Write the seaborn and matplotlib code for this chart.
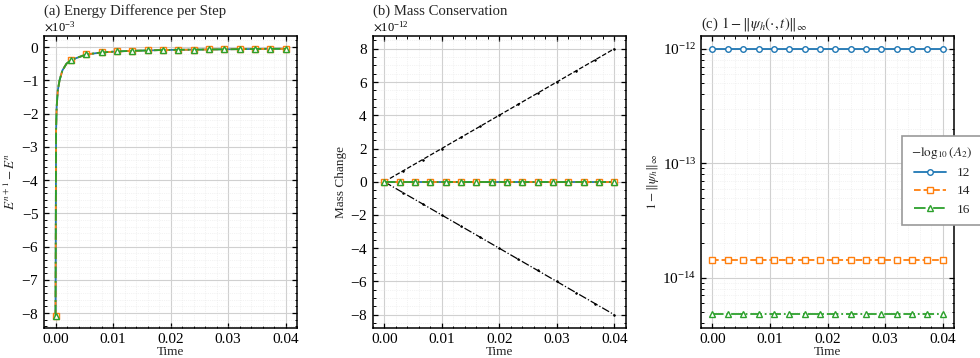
import numpy as np
import pandas as pd
import matplotlib
matplotlib.use("Agg")
import matplotlib.pyplot as plt
import seaborn as sns
from matplotlib.ticker import ScalarFormatter, LogLocator

# ---------------- data ----------------
# (a) energy difference per step (values in units of 1e-3)
time_a = [0.0, 0.0001, 0.0002, 0.0004, 0.0007, 0.0012, 0.0019,
          0.00267, 0.00533, 0.008, 0.01067, 0.01333, 0.016, 0.01867,
          0.02133, 0.024, 0.02667, 0.02933, 0.032, 0.03467, 0.03733, 0.04]
energy_12 = [-8.10, -2.50, -1.80, -1.30, -1.00, -0.70, -0.50,
             -0.39, -0.22, -0.16, -0.13, -0.11, -0.10, -0.085,
             -0.08, -0.075, -0.07, -0.065, -0.06, -0.055, -0.05, -0.05]
energy_14 = [-8.10, -2.50, -1.80, -1.30, -1.00, -0.70, -0.50,
             -0.39, -0.22, -0.16, -0.13, -0.11, -0.10, -0.085,
             -0.08, -0.075, -0.07, -0.065, -0.06, -0.055, -0.05, -0.05]
energy_16 = [-8.10, -2.50, -1.80, -1.30, -1.00, -0.70, -0.50,
             -0.39, -0.22, -0.16, -0.13, -0.11, -0.10, -0.085,
             -0.08, -0.075, -0.07, -0.065, -0.06, -0.055, -0.05, -0.05]
marker_idx_a = [0, 7, 8, 9, 10, 11, 12, 13, 14, 15, 16, 17, 18, 19, 20, 21]

# marker sample times (b, c)
time_s = [0.0, 0.00267, 0.00533, 0.008, 0.01067, 0.01333, 0.016, 0.01867,
          0.02133, 0.024, 0.02667, 0.02933, 0.032, 0.03467, 0.03733, 0.04]

# (b) mass change
mass_12 = [0.0] * 16
mass_14 = [0.0] * 16
mass_16 = [0.0] * 16
time_ref = [0.0, 0.00333, 0.00667, 0.01, 0.01333, 0.01667, 0.02,
            0.02333, 0.02667, 0.03, 0.03333, 0.03667, 0.04]
ref_upper = [0.0, 0.667, 1.333, 2.0, 2.667, 3.333, 4.0,
             4.667, 5.333, 6.0, 6.667, 7.333, 8.0]      # x 1e-12
ref_lower = [0.0, -0.667, -1.333, -2.0, -2.667, -3.333, -4.0,
             -4.667, -5.333, -6.0, -6.667, -7.333, -8.0]  # x 1e-12

# (c) 1 - ||psi_h||_inf
sup_12 = [1.0e-12] * 16
sup_14 = [1.44e-14] * 16
sup_16 = [4.77e-15] * 16
log_ticks_c = [1e-14, 1e-13, 1e-12]

labels = ["12", "14", "16"]
colors = ["#1f77b4", "#ff7f0e", "#2ca02c"]
styles = ["-", "--", "-."]
marks = ["o", "s", "^"]

# ---------------- style ----------------
sns.set_theme(style="ticks")
plt.rcParams.update({
    "font.family": ["Liberation Serif", "DejaVu Serif"],
    "mathtext.fontset": "stix",
    "axes.linewidth": 1.1,
    "xtick.direction": "in", "ytick.direction": "in",
    "xtick.top": True, "ytick.right": True,
    "xtick.minor.visible": True, "ytick.minor.visible": True,
    "xtick.major.size": 3.5, "ytick.major.size": 3.5,
    "xtick.minor.size": 1.8, "ytick.minor.size": 1.8,
    "xtick.major.width": 0.9, "ytick.major.width": 0.9,
    "xtick.minor.width": 0.7, "ytick.minor.width": 0.7,
    "xtick.labelsize": 11, "ytick.labelsize": 11,
    "axes.labelsize": 9.5, "axes.titlesize": 10.6,
    "xtick.color": "black", "ytick.color": "black",
    "axes.edgecolor": "black", "axes.facecolor": "white",
    "axes.unicode_minus": True,
})

fig = plt.figure(figsize=(9.8, 3.58), dpi=100)
W = 0.2582
B = 0.0838
H = 0.817
ax_a = fig.add_axes([0.0449, B, W, H])
ax_b = fig.add_axes([0.3803, B, W, H])
ax_c = fig.add_axes([0.7153, B, W, H])


def style_grid(ax):
    ax.grid(True, which="major", color="#d0d0d0", linewidth=0.8, linestyle="-")
    ax.grid(True, which="minor", color="#e8e8e8", linewidth=0.5, linestyle=":")
    ax.set_axisbelow(True)


lw = 1.3
ms = 4.0

# ---- (a) ----
for vals, c, ls, m in zip([energy_12, energy_14, energy_16], colors, styles, marks):
    df = pd.DataFrame({"t": time_a, "v": np.array(vals) * 1e-3})
    sns.lineplot(data=df, x="t", y="v", ax=ax_a, color=c, linestyle=ls, linewidth=lw,
                 marker=m, markevery=marker_idx_a, markersize=ms,
                 markerfacecolor="white", markeredgecolor=c, markeredgewidth=1.0,
                 estimator=None, sort=False)
ax_a.set_title("(a) Energy Difference per Step", loc="left", pad=4)
ax_a.set_xlabel("Time", labelpad=0)
ax_a.set_ylabel(r"$E^{n+1} - E^{n}$", labelpad=2)

# ---- (b) ----
df_up = pd.DataFrame({"t": time_ref, "v": np.array(ref_upper) * 1e-12})
df_lo = pd.DataFrame({"t": time_ref, "v": np.array(ref_lower) * 1e-12})
sns.lineplot(data=df_up, x="t", y="v", ax=ax_b, color="black", linestyle="--",
             linewidth=0.9, marker=".", markersize=2.5, markeredgecolor="black",
             markeredgewidth=0.5, estimator=None, sort=False)
sns.lineplot(data=df_lo, x="t", y="v", ax=ax_b, color="black", linestyle="-.",
             linewidth=0.9, marker=".", markersize=2.5, markeredgecolor="black",
             markeredgewidth=0.5, estimator=None, sort=False)
for vals, c, ls, m in zip([mass_12, mass_14, mass_16], colors, styles, marks):
    df = pd.DataFrame({"t": time_s, "v": vals})
    sns.lineplot(data=df, x="t", y="v", ax=ax_b, color=c, linestyle=ls, linewidth=lw,
                 marker=m, markersize=ms, markerfacecolor="white",
                 markeredgecolor=c, markeredgewidth=1.0, estimator=None, sort=False)
ax_b.set_title("(b) Mass Conservation", loc="left", pad=4)
ax_b.set_xlabel("Time", labelpad=0)
ax_b.set_ylabel("Mass Change", labelpad=2)
ax_b.set_ylim(-8.8e-12, 8.8e-12)

# ---- (c) ----
for vals, c, ls, m, lab in zip([sup_12, sup_14, sup_16], colors, styles, marks, labels):
    df = pd.DataFrame({"t": time_s, "v": vals})
    sns.lineplot(data=df, x="t", y="v", ax=ax_c, color=c, linestyle=ls, linewidth=lw,
                 marker=m, markersize=ms, markerfacecolor="white",
                 markeredgecolor=c, markeredgewidth=1.0, estimator=None, sort=False,
                 label=lab, legend=False)
ax_c.set_yscale("log")
ax_c.set_ylim(10 ** -14.44, 10 ** -11.884)
ax_c.set_yticks(log_ticks_c)
ax_c.yaxis.set_minor_locator(LogLocator(base=10, subs=np.arange(2, 10) * 1.0, numticks=20))
ax_c.set_title(r"(c) $1 - \|\psi_h(\cdot,t)\|_\infty$", loc="left", pad=6)
ax_c.set_xlabel("Time", labelpad=0)
ax_c.set_ylabel(r"$1 - \|\psi_h\|_\infty$", labelpad=1)
hs = ax_c.get_lines()
leg = ax_c.legend(hs, labels, title=r"$-\log_{10}(A_2)$", loc="center left",
                  bbox_to_anchor=(0.795, 0.505), borderaxespad=0.0,
                  fontsize=9.5, title_fontsize=9.5,
                  frameon=True, fancybox=False, framealpha=1, edgecolor="#999999",
                  handlelength=2.4, borderpad=0.7, labelspacing=0.45,
                  handletextpad=0.8)
leg.get_frame().set_linewidth(1.2)

for ax in (ax_a, ax_b, ax_c):
    ax.set_xlim(-0.002, 0.042)
    ax.set_xticks([0.0, 0.01, 0.02, 0.03, 0.04])
    ax.set_xticklabels(["0.00", "0.01", "0.02", "0.03", "0.04"])
    style_grid(ax)
    ax.tick_params(which="both", direction="in", top=True, right=True)

for ax in (ax_a, ax_b):
    fmt = ScalarFormatter(useMathText=True)
    fmt.set_powerlimits((-2, 2))
    ax.yaxis.set_major_formatter(fmt)
    ax.yaxis.get_offset_text().set_fontsize(9)

ax_a.set_ylim(-8.45e-3, 0.35e-3)

fig.savefig("out.png", dpi=100)
